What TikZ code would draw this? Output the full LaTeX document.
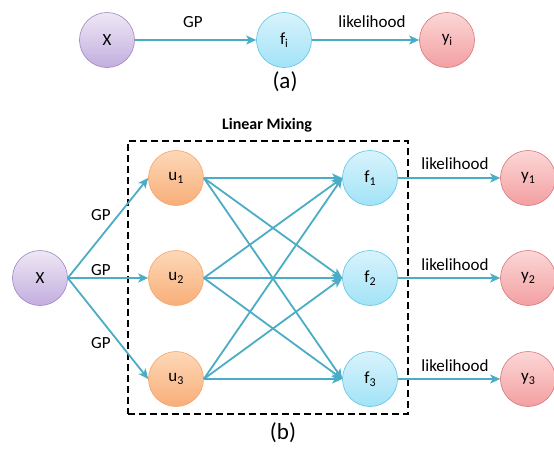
\documentclass[tikz,border=0pt]{standalone}
\usepackage{fontspec}
\setmainfont{Carlito}
\usetikzlibrary{arrows.meta}
\definecolor{arr}{HTML}{4BACC6}
\definecolor{xd}{HTML}{9F86C0}\definecolor{xt}{HTML}{EEE8F5}\definecolor{xb}{HTML}{C3ADDF}
\definecolor{ud}{HTML}{F5A46A}\definecolor{ut}{HTML}{FDD8B8}\definecolor{ub}{HTML}{F8AE78}
\definecolor{fd}{HTML}{5EC3E3}\definecolor{ft}{HTML}{D8F3FC}\definecolor{fb}{HTML}{A2E3F7}
\definecolor{yd}{HTML}{D8767B}\definecolor{yt}{HTML}{FCD6D6}\definecolor{yb}{HTML}{F3A0A2}
\newcommand{\sbs}[1]{\raisebox{-2.5pt}{\fontsize{12}{14}\selectfont #1}}
\tikzset{
  nd/.style={circle,minimum size=55pt,inner sep=0pt,font=\fontsize{17}{20}\selectfont,line width=0.6pt},
  xnode/.style={nd,draw=xd,top color=xt,bottom color=xb},
  unode/.style={nd,draw=ud,top color=ut,bottom color=ub},
  fnode/.style={nd,draw=fd,top color=ft,bottom color=fb},
  ynode/.style={nd,draw=yd,top color=yt,bottom color=yb},
  conn/.style={draw=arr,line width=1.8pt,-{Stealth[length=10pt,width=9pt,inset=2.5pt]}},
  lbl/.style={font=\fontsize{17}{20}\selectfont,inner sep=0pt},
  captxt/.style={font=\fontsize{23}{26}\selectfont,inner sep=0pt},
}
\begin{document}
\begin{tikzpicture}[x=1pt,y=-1pt]
\useasboundingbox (0,0) rectangle (554,448);
% (a)
\node[xnode] (xa) at (107,40) {X};
\node[fnode] (fa) at (284,40) {f\sbs{i}};
\node[ynode] (ya) at (447,40) {y\sbs{i}};
\draw[conn] (xa) -- (fa);
\draw[conn] (fa) -- (ya);
\node[lbl] (gpa) at (193,22) {GP};
\node[lbl] (lka) at (372,22) {likelihood};
\node[captxt] (capa) at (285,82) {(a)};
% (b)
\node[draw,dash pattern=on 7pt off 4pt,line width=1.3pt,minimum width=280pt,minimum height=273pt,inner sep=0pt] (box) at (268,277.5) {};
\node[lbl,font=\fontsize{16}{18}\selectfont\bfseries] (lm) at (267,125) {Linear Mixing};
\node[xnode] (x) at (40,278) {X};
\foreach \i/\yy in {1/178,2/278,3/379}{
  \node[unode] (u\i) at (176,\yy) {u\sbs{\i}};
  \node[fnode] (f\i) at (370,\yy) {f\sbs{\i}};
  \node[ynode] (y\i) at (528,\yy) {y\sbs{\i}};
}
\foreach \i in {1,2,3}{
  \draw[conn] (x.east) -- (u\i.west);
  \draw[conn] (f\i) -- (y\i);
  \foreach \j in {1,2,3}{
    \draw[conn] (u\i.east) -- (f\j.west);
  }
}
\node[lbl] (g1) at (101,215) {GP};
\node[lbl] (g2) at (101,270) {GP};
\node[lbl] (g3) at (101,343) {GP};
\node[lbl] (l1) at (455,164) {likelihood};
\node[lbl] (l2) at (455,265) {likelihood};
\node[lbl] (l3) at (455,366) {likelihood};
\node[captxt] (capb) at (283,433) {(b)};
\end{tikzpicture}
\end{document}
